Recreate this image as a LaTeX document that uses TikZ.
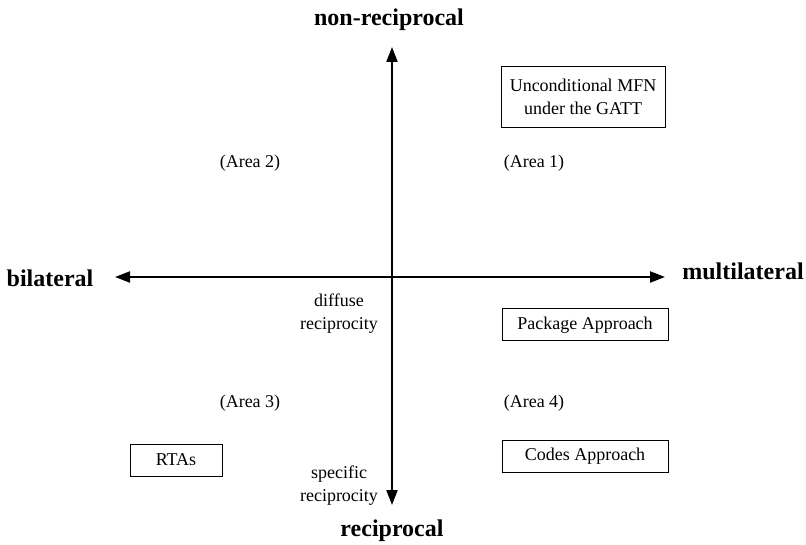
\documentclass[tikz,border=0pt]{standalone}
\usepackage{fontspec}
\setmainfont{Liberation Serif}
\usetikzlibrary{arrows.meta}
\begin{document}
\begin{tikzpicture}[x=1pt,y=-1pt,
    axislabel/.style={font=\fontsize{24}{28}\selectfont\bfseries},
    arealabel/.style={font=\fontsize{18}{23}\selectfont},
    boxed/.style={draw,line width=1pt,font=\fontsize{18}{23}\selectfont,
      align=center,inner xsep=6pt,inner ysep=3pt},
    axis/.style={line width=2.2pt,{Triangle[length=15pt,width=11pt]}-{Triangle[length=15pt,width=11pt]}}]

      \useasboundingbox (0,0) rectangle (806,545);

      % axis ends
      \coordinate (W) at (115,277);
      \coordinate (E) at (665,277);
      \coordinate (N) at (392,47);
      \coordinate (S) at (392,505);

      \begin{scope}[every node/.style={axislabel}]
        \node (nonrecip) at (389,20)  {non-reciprocal};
        \node (recip)    at (392,531) {reciprocal};
        \node (bilat)    at (50,278)  {bilateral};
        \node (multilat) at (743,271) {multilateral};
      \end{scope}

      \begin{scope}[every node/.style={arealabel}]
        \node (area1) at (534,163) {(Area 1)};
        \node (area2) at (250,163) {(Area 2)};
        \node (area3) at (250,403) {(Area 3)};
        \node (area4) at (534,403) {(Area 4)};
        \node[align=center] (diffuse)  at (339,314) {diffuse\\reciprocity};
        \node[align=center] (specific) at (339,486) {specific\\reciprocity};
      \end{scope}

      \begin{scope}[every node/.style={boxed}]
        \node[minimum width=164pt,minimum height=61pt] (mfn) at (583,97) {Unconditional MFN\\under the GATT};
        \node[minimum width=166pt,minimum height=32pt] (package) at (585,325) {Package Approach};
        \node[minimum width=166pt,minimum height=32pt] (codes)   at (585,456) {Codes Approach};
        \node[minimum width=92pt,minimum height=32pt]  (rtas)    at (176,460) {RTAs};
      \end{scope}

      \draw[axis] (W) -- (E);
      \draw[axis] (S) -- (N);

    \end{tikzpicture}
\end{document}
